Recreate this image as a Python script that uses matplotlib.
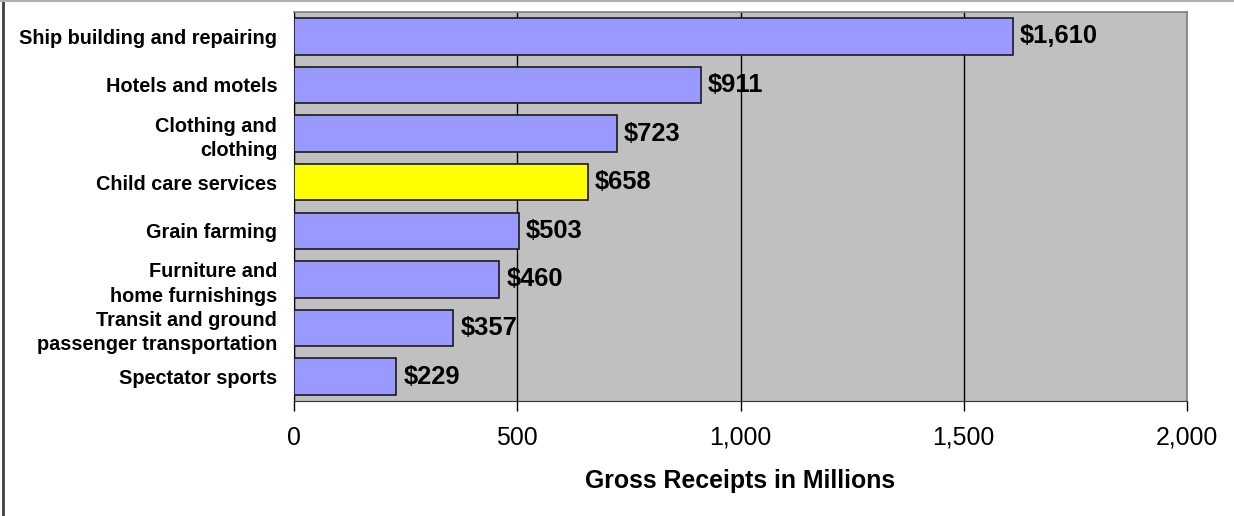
import matplotlib
matplotlib.use("Agg")
import matplotlib.pyplot as plt
from matplotlib.ticker import FuncFormatter
from matplotlib.lines import Line2D

plt.rcParams['font.family'] = ['Liberation Sans', 'DejaVu Sans']

categories = [
    "Ship building and repairing",
    "Hotels and motels",
    "Clothing and\nclothing",
    "Child care services",
    "Grain farming",
    "Furniture and\nhome furnishings",
    "Transit and ground\npassenger transportation",
    "Spectator sports",
]
values = [1610, 911, 723, 658, 503, 460, 357, 229]
highlight = "Child care services"
xticks = [0, 500, 1000, 1500, 2000]
xlabel = "Gross Receipts in Millions"

fig = plt.figure(figsize=(12.34, 5.16), dpi=100)
ax = fig.add_axes([294/1234, 1-401/516, (1187-294)/1234, (401-12)/516])
ax.set_facecolor("#C0C0C0")

n = len(categories)
ypos = list(range(n))
colors = ["#FFFF00" if c == highlight else "#9999FF" for c in categories]
ax.barh(ypos, values, height=0.75, color=colors, edgecolor="#1a1a1a", linewidth=1.2, zorder=3)
ax.set_ylim(n - 0.5, -0.5)
ax.set_xlim(0, 2000)
ax.set_xticks(xticks)
ax.xaxis.set_major_formatter(FuncFormatter(lambda v, p: f"{int(v):,}"))
ax.set_yticks(ypos)
ax.set_yticklabels(categories, fontsize=14.3, fontweight="bold", ha="right",
                   multialignment="right", linespacing=1.35)
ax.tick_params(axis="y", length=0, pad=12)
ax.tick_params(axis="x", length=7, width=1, labelsize=17.9, pad=11, direction="out")
ax.grid(axis="x", color="#000000", linewidth=1, zorder=1)
ax.set_axisbelow(True)

for y, v in zip(ypos, values):
    ax.annotate(f"${v:,}", xy=(v, y), xytext=(5, 0), textcoords="offset points",
                va="center", ha="left", fontsize=18.4, fontweight="bold", zorder=4)

ax.set_xlabel(xlabel, fontsize=17.9, fontweight="bold", labelpad=14)

for side in ["top", "right"]:
    ax.spines[side].set_color("#808080")
    ax.spines[side].set_linewidth(1.2)
ax.spines["bottom"].set_color("#333333")
ax.spines["left"].set_color("#000000")

fig.add_artist(Line2D([2.5/1234, 2.5/1234], [0, 1], color="#404040", linewidth=2, transform=fig.transFigure))
fig.add_artist(Line2D([0, 1], [1-0.5/516, 1-0.5/516], color="#B0B0B0", linewidth=1.5, transform=fig.transFigure))

fig.savefig("out.png", dpi=100)
